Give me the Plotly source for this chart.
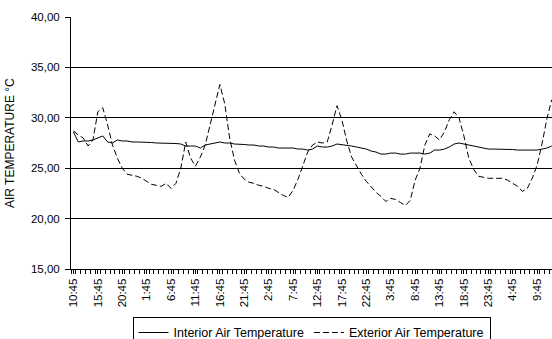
import plotly.graph_objects as go

# Hourly readings starting at 10:45 (index 0)
tick_labels = ["10:45", "15:45", "20:45", "1:45", "6:45", "11:45", "16:45", "21:45",
               "2:45", "7:45", "12:45", "17:45", "22:45", "3:45", "8:45", "13:45",
               "18:45", "23:45", "4:45", "9:45"]

interior = [28.6, 27.6, 27.7, 27.7, 27.8, 28.0, 28.2, 27.6, 27.5, 27.8,
            27.7, 27.7, 27.6, 27.6, 27.6, 27.6, 27.55, 27.5, 27.5, 27.5,
            27.5, 27.45, 27.4, 27.2, 27.2, 27.2, 27.0, 27.3, 27.4, 27.5,
            27.6, 27.5, 27.5, 27.4, 27.4, 27.35, 27.3, 27.3, 27.2, 27.2,
            27.1, 27.1, 27.0, 27.0, 27.0, 27.0, 26.9, 26.9, 26.8, 26.9,
            27.2, 27.1, 27.1, 27.2, 27.4, 27.35, 27.3, 27.2, 27.1, 27.0,
            26.9, 26.7, 26.6, 26.4, 26.4, 26.5, 26.5, 26.4, 26.4, 26.5,
            26.5, 26.5, 26.4, 26.5, 26.8, 26.8, 26.9, 27.1, 27.4, 27.5,
            27.4, 27.3, 27.2, 27.1, 27.0, 26.9, 26.9, 26.9, 26.9, 26.9,
            26.85, 26.8, 26.8, 26.8, 26.8, 26.8, 26.9, 27.0, 27.2]

exterior = [28.7, 28.3, 28.0, 27.2, 27.8, 30.6, 31.0, 29.3, 27.3, 26.0,
            25.0, 24.4, 24.3, 24.2, 24.0, 23.7, 23.4, 23.3, 23.2, 23.5,
            23.0, 23.5, 25.0, 27.6, 26.0, 25.2, 26.1, 27.3, 29.2, 31.3,
            33.3, 31.4, 28.0, 25.8, 24.5, 23.9, 23.6, 23.5, 23.3, 23.2,
            23.0, 22.9, 22.6, 22.3, 22.1, 22.8, 23.9, 25.2, 26.6, 27.3,
            27.6, 27.5, 27.6, 29.3, 31.2, 29.8, 27.7, 26.1, 25.2, 24.4,
            23.7, 23.1, 22.6, 22.2, 21.7, 22.0, 21.9, 21.6, 21.3, 21.8,
            23.8, 25.0, 27.3, 28.4, 28.2, 27.8, 28.6, 29.8, 30.6, 30.0,
            28.2, 26.0, 24.9, 24.2, 24.1, 24.0, 24.0, 24.0, 24.0, 23.8,
            23.5, 23.2, 22.7, 23.0, 24.0, 25.3, 27.4, 29.9, 31.8]

x_idx = list(range(len(interior)))
tick_pos = [i * 5 for i in range(len(tick_labels))]

fig = go.Figure()
fig.add_trace(go.Scatter(x=x_idx, y=interior, mode="lines",
                         name="Interior Air Temperature",
                         line=dict(color="black", width=1)))
fig.add_trace(go.Scatter(x=x_idx, y=exterior, mode="lines",
                         name="Exterior Air Temperature",
                         line=dict(color="black", width=1, dash="6px,3px")))

fig.update_layout(
    width=552, height=339,
    margin=dict(l=71, r=0, t=17, b=70, autoexpand=False),
    paper_bgcolor="white", plot_bgcolor="white",
    separators=",.",
    font=dict(family="Liberation Sans, Arial, sans-serif", size=11.5, color="black"),
    showlegend=True,
    legend=dict(orientation="h", x=0.5, xanchor="center", y=-0.19, yanchor="top",
                bordercolor="black", borderwidth=1, bgcolor="white",
                font=dict(size=12.5), tracegroupgap=0, itemwidth=30),
    xaxis=dict(range=[-0.5, 98.05], tickmode="array", tickvals=tick_pos,
               ticktext=tick_labels, tickangle=-90, showgrid=False,
               showline=True, linecolor="black", linewidth=1,
               ticks="outside", ticklen=4, tickcolor="black",
               minor=dict(dtick=1, tick0=-0.5, ticks="outside", ticklen=4,
                          tickcolor="black", showgrid=False),
               zeroline=False, automargin=False, tickfont=dict(size=11.5)),
    yaxis=dict(range=[15, 40], dtick=5, tickformat=".2f", showgrid=True,
               gridcolor="black", gridwidth=1, showline=True, linecolor="black",
               linewidth=1, ticks="outside", ticklen=5, tickcolor="black",
               ticklabelstandoff=3,
               zeroline=False, automargin=False, tickfont=dict(size=11.5)),
    annotations=[dict(text="AIR TEMPERATURE °C", textangle=-90, xref="paper",
                      yref="paper", x=-61 / 481, y=0.5, xanchor="center",
                      yanchor="middle", showarrow=False, font=dict(size=12))],
)

fig.write_html("out.html", config={"displayModeBar": False},
               post_script="document.body.style.margin='0';document.body.style.padding='0';")
